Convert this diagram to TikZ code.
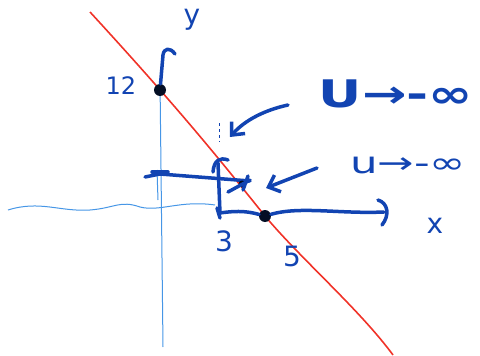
\documentclass[tikz,border=0pt]{standalone}
\usepackage{fontspec}
\setmainfont{DejaVu Sans}
\usetikzlibrary{arrows.meta}
\definecolor{ink}{RGB}{18,68,178}
\definecolor{thin}{RGB}{70,150,230}
\definecolor{redline}{RGB}{240,50,40}
\begin{document}
\begin{tikzpicture}[x=1pt,y=-1pt,
  pen/.style={draw=ink,line width=3.5pt,line cap=round,line join=round},
  thinpen/.style={draw=thin,line width=1pt},
  lab/.style={text=ink,font=\fontsize{28}{28}\selectfont,inner sep=0pt},
  dotnode/.style={circle,fill=black!80!ink,inner sep=0pt,minimum size=12pt},
  arr/.style={pen,-{Straight Barb[length=10pt,width=18pt,line width=3.5pt]}}]
\useasboundingbox (0,0) rectangle (480,356);
% thin axes
\draw[thinpen] (8,210) .. controls (40,200) and (60,212) .. (90,210)
  .. controls (115,208) and (120,200) .. (140,207)
  .. controls (160,212) and (180,200) .. (215,205);
\draw[thinpen] (160,80) -- (163,347);
\draw[thinpen] (157,170) -- (158,200);
% red line
\draw[redline,line width=1.6pt] (90,12) .. controls (180,110) and (220,160) .. (265,216)
  .. controls (300,258) and (360,310) .. (393,355);
% y axis arrow
\node[dotnode] (p12) at (160,90) {};
\coordinate (ytop) at (163,55);
\draw[pen] (p12) -- (ytop) .. controls (164,48) and (170,47) .. (175,54);
\node[lab] (ylab) at (192,20) {y};
\node[lab,font=\fontsize{24}{24}\selectfont] (l12) at (121,86) {12};
% x axis
\node[dotnode] (p5) at (265,216) {};
\coordinate (xend) at (384,212);
\draw[pen] (220,213) .. controls (240,210) and (250,212) .. (p5)
  .. controls (300,206) and (340,214) .. (xend);
\draw[pen] (378,200) .. controls (388,203) and (390,215) .. (382,225);
\node[lab] (xlab) at (435,226) {x};
% horizontal and vertical helper lines
\coordinate (hl) at (145,177);
\coordinate (hr) at (250,181);
\draw[pen] (hl) -- (160,174) -- (hr);
\draw[pen] (152,172) -- (168,172);
\draw[pen] (218,163) -- (220,213);
\draw[pen] (213,172) .. controls (214,160) and (220,157) .. (228,160);
\draw[pen] (217,208) -- (220,218);
% x mark at intersection
\node[dotnode,minimum size=7pt] (px) at (242,184) {};
\draw[pen] (228,192) -- (250,180);
\draw[pen] (248,176) -- (243,190);
% tick labels
\node[lab] (l3) at (224,241) {3};
\node[lab] (l5) at (292,256) {5};
% annotation arrows
\coordinate (a1s) at (288,105);
\coordinate (a1e) at (230,137);
\draw[arr] (a1s) .. controls (265,110) and (245,120) .. (a1e);
\draw[ink,line width=1pt,dashed] (219,123) -- (219,142);
\coordinate (a2s) at (317,168);
\coordinate (a2e) at (266,188);
\draw[arr] (a2s) -- (a2e);
% labels
\node[lab,font=\fontsize{38}{38}\bfseries\selectfont,xscale=1.4] (Ulab) at (396,94) {U→-∞};
\node[lab,font=\fontsize{30}{30}\selectfont,xscale=1.45] (ulab) at (408,165) {u→-∞};
\end{tikzpicture}
\end{document}
